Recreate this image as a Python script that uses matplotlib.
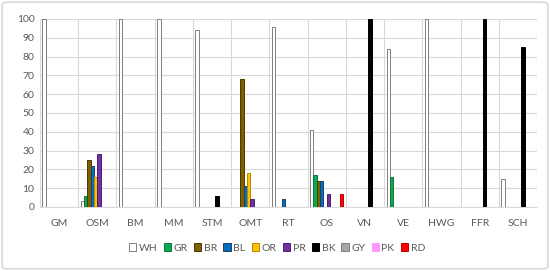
import numpy as np
import matplotlib
matplotlib.use("Agg")
import matplotlib.pyplot as plt
from matplotlib.patches import FancyBboxPatch, Patch

categories = ["GM", "OSM", "BM", "MM", "STM", "OMT", "RT", "OS", "VN", "VE", "HWG", "FFR", "SCH"]
series_names = ["WH", "GR", "BR", "BL", "OR", "PR", "BK", "GY", "PK", "RD"]

WH = [100, 3, 100, 100, 94, 0, 96, 41, 0, 84, 100, 0, 15]
GR = [0, 6, 0, 0, 0, 0, 0, 17, 0, 16, 0, 0, 0]
BR = [0, 25, 0, 0, 0, 68, 0, 14, 0, 0, 0, 0, 0]
BL = [0, 22, 0, 0, 0, 11, 4, 14, 0, 0, 0, 0, 0]
OR = [0, 16, 0, 0, 0, 18, 0, 0, 0, 0, 0, 0, 0]
PR = [0, 28, 0, 0, 0, 4, 0, 7, 0, 0, 0, 0, 0]
BK = [0, 0, 0, 0, 6, 0, 0, 0, 100, 0, 0, 100, 85]
GY = [0, 0, 0, 0, 0, 0, 0, 0, 0, 0, 0, 0, 0]
PK = [0, 0, 0, 0, 0, 0, 0, 0, 0, 0, 0, 0, 0]
RD = [0, 0, 0, 0, 0, 0, 0, 7, 0, 0, 0, 0, 0]

series_values = [WH, GR, BR, BL, OR, PR, BK, GY, PK, RD]
face_colors = ["#FFFFFF", "#00B050", "#7F6000", "#0070C0", "#FFC000", "#7030A0",
               "#000000", "#A6A6A6", "#FF99FF", "#FF0000"]
edge_colors = ["#7F7F7F", "#1E6B3C", "#4D3A00", "#1F3F66", "#B88A00", "#4A2070",
               "#000000", "#7F7F7F", "#FF99FF", "#C00000"]

plt.rcParams['font.family'] = ['Lato', 'DejaVu Sans']

fig = plt.figure(figsize=(5.5, 2.71), dpi=100)
ax = fig.add_axes([40/550, 1-207/271, 497/550, (207-19)/271])

n = len(series_names)
w = 1.0 / (n + 1.5)
x = np.arange(len(categories))
for j, (vals, fc, ec) in enumerate(zip(series_values, face_colors, edge_colors)):
    v = np.array(vals, dtype=float)
    v[v == 0] = np.nan
    ax.bar(x - n * w / 2 + (j + 0.5) * w, v, width=w, color=fc, edgecolor=ec,
           linewidth=0.7, zorder=3)

ax.set_xlim(-0.5, len(categories) - 0.5)
ax.set_ylim(0, 100)
ax.set_yticks(np.arange(0, 101, 10))
ax.set_xticks(x)
ax.set_xticklabels(categories)
ax.set_xticks(np.arange(-0.5, len(categories), 1), minor=True)
ax.grid(axis='y', which='major', color='#D9D9D9', linewidth=0.8, zorder=0)
ax.grid(axis='x', which='minor', color='#D9D9D9', linewidth=0.8, zorder=0)
ax.tick_params(axis='both', which='both', length=0, labelsize=7.5, colors='#595959')
ax.tick_params(axis='x', pad=9)
ax.tick_params(axis='y', pad=4)
for s in ['top', 'right', 'left']:
    ax.spines[s].set_visible(False)
ax.spines['bottom'].set_color('#D9D9D9')
ax.spines['bottom'].set_linewidth(0.8)

handles = [Patch(facecolor=fc, edgecolor=ec, linewidth=0.7, label=nm)
           for nm, fc, ec in zip(series_names, face_colors, edge_colors)]
fig.legend(handles=handles, loc='center', bbox_to_anchor=(277/550, 1-248/271), ncol=n,
           frameon=False, fontsize=7.5, handlelength=0.7, handleheight=0.7,
           handletextpad=0.25, columnspacing=0.6, labelcolor='#595959')

border = FancyBboxPatch((0.004, 0.008), 0.992, 0.984, boxstyle="round,pad=0,rounding_size=0.01",
                        transform=fig.transFigure, facecolor='none', edgecolor='#D9D9D9',
                        linewidth=1.2)
fig.patches.append(border)

fig.savefig("out.png", dpi=100)
